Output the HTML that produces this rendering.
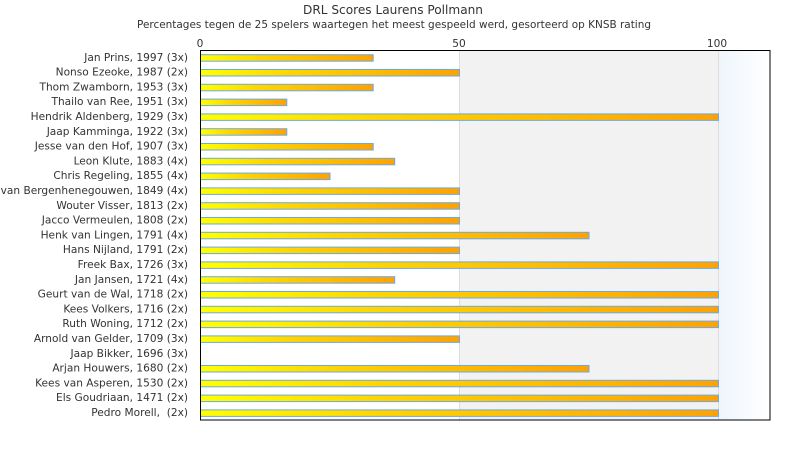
<!DOCTYPE html>
<html><head><meta charset="utf-8"><style>
html,body{margin:0;padding:0;background:#fff;}
svg{display:block;}
text{font-family:"DejaVu Sans","Liberation Sans",sans-serif;fill:#333;}
</style></head><body>
<svg width="790" height="450" viewBox="0 0 790 450" xmlns="http://www.w3.org/2000/svg">
<defs>
<linearGradient id="bg3" x1="0" y1="0" x2="1" y2="0">
<stop offset="0" stop-color="#eef5fc"/><stop offset="1" stop-color="#ffffff"/>
</linearGradient>
<linearGradient id="bar" x1="0" y1="0" x2="1" y2="0">
<stop offset="0" stop-color="#ffff00"/><stop offset="0.35" stop-color="#ffd400"/><stop offset="1" stop-color="#ffa200"/>
</linearGradient>
</defs>
<text x="393" y="14" font-size="12" text-anchor="middle" textLength="180" lengthAdjust="spacingAndGlyphs">DRL Scores Laurens Pollmann</text>
<text x="394" y="28" font-size="10.6" text-anchor="middle" textLength="514" lengthAdjust="spacingAndGlyphs">Percentages tegen de 25 spelers waartegen het meest gespeeld werd, gesorteerd op KNSB rating</text>
<rect x="459" y="50" width="259" height="370" fill="#f2f2f2"/>
<rect x="718" y="50" width="52" height="370" fill="url(#bg3)"/>
<line x1="459.5" y1="50" x2="459.5" y2="420" stroke="#dddddd"/>
<line x1="718.5" y1="50" x2="718.5" y2="420" stroke="#dddddd"/>
<text x="200" y="47" font-size="10.6" text-anchor="middle">0</text>
<text x="459" y="47" font-size="10.6" text-anchor="middle">50</text>
<text x="717" y="47" font-size="10.6" text-anchor="middle">100</text>
<g font-size="10.6" text-anchor="end">
<text x="188" y="60.8">Jan Prins, 1997 (3x)</text>
<text x="188" y="75.6">Nonso Ezeoke, 1987 (2x)</text>
<text x="188" y="90.4">Thom Zwamborn, 1953 (3x)</text>
<text x="188" y="105.2">Thailo van Ree, 1951 (3x)</text>
<text x="188" y="120">Hendrik Aldenberg, 1929 (3x)</text>
<text x="188" y="134.8">Jaap Kamminga, 1922 (3x)</text>
<text x="188" y="149.6">Jesse van den Hof, 1907 (3x)</text>
<text x="188" y="164.4">Leon Klute, 1883 (4x)</text>
<text x="188" y="179.2">Chris Regeling, 1855 (4x)</text>
<text x="188" y="194">van Bergenhenegouwen, 1849 (4x)</text>
<text x="188" y="208.8">Wouter Visser, 1813 (2x)</text>
<text x="188" y="223.6">Jacco Vermeulen, 1808 (2x)</text>
<text x="188" y="238.4">Henk van Lingen, 1791 (4x)</text>
<text x="188" y="253.2">Hans Nijland, 1791 (2x)</text>
<text x="188" y="268">Freek Bax, 1726 (3x)</text>
<text x="188" y="282.8">Jan Jansen, 1721 (4x)</text>
<text x="188" y="297.6">Geurt van de Wal, 1718 (2x)</text>
<text x="188" y="312.4">Kees Volkers, 1716 (2x)</text>
<text x="188" y="327.2">Ruth Woning, 1712 (2x)</text>
<text x="188" y="342">Arnold van Gelder, 1709 (3x)</text>
<text x="188" y="356.8">Jaap Bikker, 1696 (3x)</text>
<text x="188" y="371.6">Arjan Houwers, 1680 (2x)</text>
<text x="188" y="386.4">Kees van Asperen, 1530 (2x)</text>
<text x="188" y="401.2">Els Goudriaan, 1471 (2x)</text>
<text x="188" y="416" xml:space="preserve">Pedro Morell,  (2x)</text>
</g>
<g stroke="#6aaae8" stroke-width="1">
<rect x="200.5" y="54.7" width="172.7" height="6.5" fill="url(#bar)"/>
<rect x="200.5" y="69.5" width="259" height="6.5" fill="url(#bar)"/>
<rect x="200.5" y="84.3" width="172.7" height="6.5" fill="url(#bar)"/>
<rect x="200.5" y="99.1" width="86.3" height="6.5" fill="url(#bar)"/>
<rect x="200.5" y="113.9" width="518" height="6.5" fill="url(#bar)"/>
<rect x="200.5" y="128.7" width="86.3" height="6.5" fill="url(#bar)"/>
<rect x="200.5" y="143.5" width="172.7" height="6.5" fill="url(#bar)"/>
<rect x="200.5" y="158.3" width="194.2" height="6.5" fill="url(#bar)"/>
<rect x="200.5" y="173.1" width="129.5" height="6.5" fill="url(#bar)"/>
<rect x="200.5" y="187.9" width="259" height="6.5" fill="url(#bar)"/>
<rect x="200.5" y="202.7" width="259" height="6.5" fill="url(#bar)"/>
<rect x="200.5" y="217.5" width="259" height="6.5" fill="url(#bar)"/>
<rect x="200.5" y="232.3" width="388.5" height="6.5" fill="url(#bar)"/>
<rect x="200.5" y="247.1" width="259" height="6.5" fill="url(#bar)"/>
<rect x="200.5" y="261.9" width="518" height="6.5" fill="url(#bar)"/>
<rect x="200.5" y="276.7" width="194.2" height="6.5" fill="url(#bar)"/>
<rect x="200.5" y="291.5" width="518" height="6.5" fill="url(#bar)"/>
<rect x="200.5" y="306.3" width="518" height="6.5" fill="url(#bar)"/>
<rect x="200.5" y="321.1" width="518" height="6.5" fill="url(#bar)"/>
<rect x="200.5" y="335.9" width="259" height="6.5" fill="url(#bar)"/>
<rect x="200.5" y="365.5" width="388.5" height="6.5" fill="url(#bar)"/>
<rect x="200.5" y="380.3" width="518" height="6.5" fill="url(#bar)"/>
<rect x="200.5" y="395.1" width="518" height="6.5" fill="url(#bar)"/>
<rect x="200.5" y="409.9" width="518" height="6.5" fill="url(#bar)"/>
</g>
<rect x="200.5" y="50.5" width="569.5" height="369.5" fill="none" stroke="#000" stroke-width="1"/>
</svg>
</body></html>
